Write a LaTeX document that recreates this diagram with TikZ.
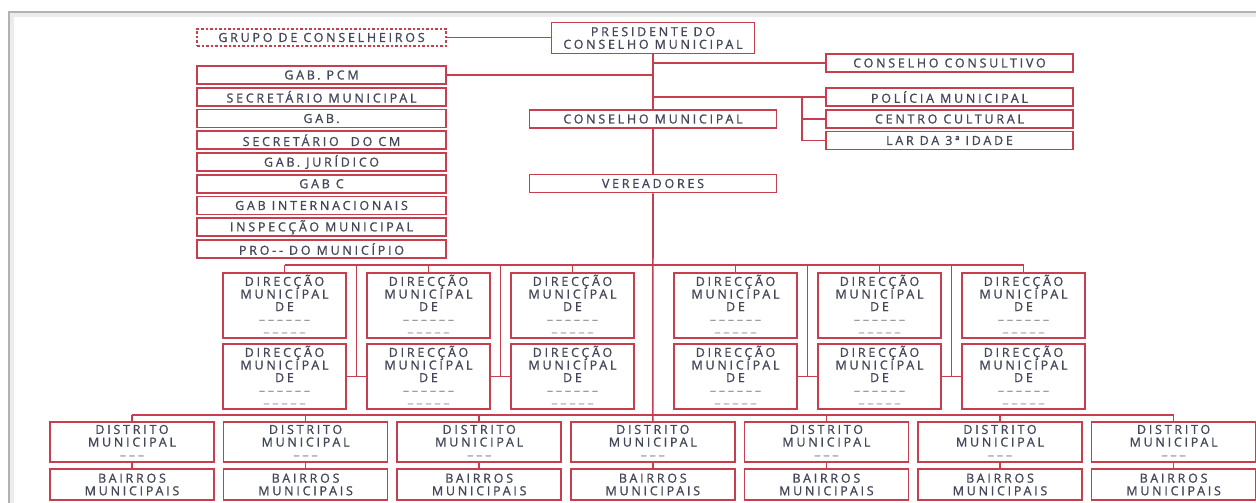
\documentclass[tikz,border=0pt]{standalone}
\usepackage{fontspec}
\newfontfamily\orgfont{Open Sans}[LetterSpace=22,FakeBold=1.0]
\usetikzlibrary{calc}
\definecolor{orgred}{HTML}{C73E4E}
\definecolor{orgtext}{HTML}{44475A}
\definecolor{dashgrey}{HTML}{9C9CA6}
\definecolor{framegrey}{HTML}{B2B2B2}
\newcommand\dgrey[1]{{\color{dashgrey}#1}}
\begin{document}
\begin{tikzpicture}[x=1pt,y=-1pt,
  box/.style={draw=orgred,line width=1.6pt,fill=white,inner sep=0pt,text=orgtext,
    align=center,font=\orgfont\fontsize{12.5}{12.6}\selectfont},
  lcol/.style={box,minimum width=249pt,minimum height=18pt},
  rcol/.style={box,minimum width=247pt,minimum height=18pt},
  dirbox/.style={box,minimum width=123pt,minimum height=65pt},
  distbox/.style={box,minimum width=164pt,minimum height=40pt},
  bairbox/.style={box,minimum width=164pt,minimum height=31pt},
  link/.style={draw=orgred,line width=1.6pt}]
\useasboundingbox (0,0) rectangle (1256,503);

% page frame
\draw[framegrey!25,line width=5pt] (11.5,510) -- (11.5,14.5) -- (1260,14.5);
\draw[framegrey,line width=1.6pt] (9,510) -- (9,12) -- (1260,12);

% top of the chart
\node[lcol,minimum height=17pt,dash pattern=on 2.5pt off 2pt] (grupo) at (321.5,37.5) {GRUPO DE CONSELHEIROS};
\node[box,minimum width=203pt,minimum height=31pt] (pres) at (653,38) {PRESIDENTE DO\\CONSELHO MUNICIPAL};

% left column
\node[lcol] (gabpcm) at (321.5,75) {GAB. PCM};
\node[lcol] (secmun) at (321.5,96.75) {SECRETÁRIO MUNICIPAL};
\node[lcol] (gab) at (321.5,118.5) {GAB.};
\node[lcol] (seccm) at (321.5,140.25) {SECRETÁRIO\ \ DO CM};
\node[lcol] (gabjur) at (321.5,162) {GAB. JURÍDICO};
\node[lcol] (gabc) at (321.5,183.75) {GAB C};
\node[lcol] (gabint) at (321.5,205.5) {GAB INTERNACIONAIS};
\node[lcol] (insp) at (321.5,227.25) {INSPECÇÃO MUNICIPAL};
\node[lcol] (pro) at (321.5,249) {PRO-- DO MUNICÍPIO};

% right column
\node[rcol] (consultivo) at (949.5,63) {CONSELHO CONSULTIVO};
\node[rcol] (pol) at (949.5,97) {POLÍCIA MUNICIPAL};
\node[rcol] (centro) at (949.5,119) {CENTRO CULTURAL};
\node[rcol] (lar) at (949.5,140.5) {LAR DA 3ª IDADE};

% centre column
\node[rcol] (cm) at (653,119) {CONSELHO MUNICIPAL};
\node[rcol] (ver) at (653,183.5) {VEREADORES};

% municipal directorates
\foreach \n/\x in {a/284.5,b/428.5,c/572.5,d/735.5,e/879.5,f/1023.5}{
  \node[dirbox] (\n1) at (\x,305.5) {DIRECÇÃO\\MUNICIPAL\\DE\\\dgrey{––––––}\\\dgrey{–––––}};
  \node[dirbox] (\n2) at (\x,376.5) {DIRECÇÃO\\MUNICIPAL\\DE\\\dgrey{––––––}\\\dgrey{–––––}};
}

% districts and neighbourhoods
\foreach \i in {1,...,7}{
  \pgfmathsetmacro\xx{132+173.6*(\i-1)}
  \node[distbox] (s\i) at (\xx,442) {DISTRITO\\MUNICIPAL\\\dgrey{–––}};
  \node[bairbox] (q\i) at (\xx,484.5) {BAIRROS\\MUNICIPAIS};
}

% connectors
\draw[link] (grupo.east) -- (grupo.east -| pres.west);
\draw[link] (pres.south) -- (cm.north);
\draw[link] (cm.south) -- (ver.north);
\draw[link] (ver.south) -- (s4.north);
\draw[link] (gabpcm.east) -- (gabpcm.east -| pres.south);
\draw[link] (consultivo.west -| pres.south) -- (consultivo.west);
\coordinate (br) at (802,97);
\draw[link] (pol.west -| pres.south) -- (pol.west);
\draw[link] (br) -- (br |- lar.west) -- (lar.west);
\draw[link] (br |- centro.west) -- (centro.west);

\coordinate (dbus) at (0,265);
\draw[link] (a1.north |- dbus) -- (f1.north |- dbus);
\foreach \n in {a,b,c,d,e,f}
  \draw[link] (\n1.north |- dbus) -- (\n1.north);
\foreach \l/\r in {a/b,b/c,d/e,e/f}{
  \coordinate (v\l) at ($(\l2.east)!0.5!(\r2.west)$);
  \draw[link] (v\l |- dbus) -- (v\l);
  \draw[link] (\l2.east) -- (\r2.west);
}

\coordinate (sbus) at (0,415);
\draw[link] (s1.north |- sbus) -- (s7.north |- sbus);
\foreach \i in {1,2,3,5,6,7}
  \draw[link] (s\i.north |- sbus) -- (s\i.north);
\foreach \i in {1,...,7}
  \draw[link] (s\i.south) -- (q\i.north);
\end{tikzpicture}
\end{document}
